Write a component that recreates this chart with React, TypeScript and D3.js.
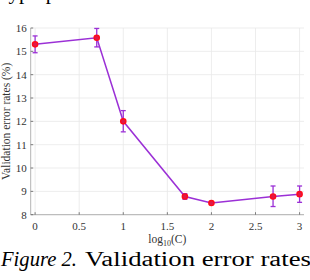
import React from "react";
import * as d3 from "d3";

const xValues = [0, 0.699, 1, 1.699, 2, 2.699, 3];
const yValues = [15.3, 15.58, 12.0, 8.78, 8.5, 8.78, 8.88];
const errLow = [14.94, 15.19, 11.55, 8.66, 8.46, 8.35, 8.53];
const errHigh = [15.66, 15.98, 12.46, 8.9, 8.54, 9.23, 9.23];
const xTicks = [0, 0.5, 1, 1.5, 2, 2.5, 3];
const xTickLabels = ["0", "0.5", "1", "1.5", "2", "2.5", "3"];
const yTicks = [8, 9, 10, 11, 12, 13, 14, 15, 16];

const W = 310;
const H = 280;
const serif = "'Liberation Serif', 'Times New Roman', serif";
const lineColor = "#9b30d6";

export default function App() {
  const x = d3.scaleLinear().domain([-0.05, 3.05]).range([30.7, 304]);
  const y = d3.scaleLinear().domain([8, 16]).range([214.7, 28]);
  const line = d3
    .line<number>()
    .x((_, i) => x(xValues[i]))
    .y((d) => y(d));
  const capW = 2.5;
  return (
    <svg
      width={W}
      height={H}
      style={{ position: "absolute", left: 0, top: 0, background: "#fff" }}
    >
      <text x={-2} y={-1} fontFamily={serif} fontSize={21} fill="#000">
        hyperparameter C
      </text>
      {/* grid */}
      {xTicks.map((t) => (
        <line
          key={"gx" + t}
          x1={x(t)}
          x2={x(t)}
          y1={y(16)}
          y2={y(8)}
          stroke="#e8e8e8"
          strokeWidth={0.8}
        />
      ))}
      {yTicks.map((t) => (
        <line
          key={"gy" + t}
          x1={x(-0.05)}
          x2={x(3.05)}
          y1={y(t)}
          y2={y(t)}
          stroke="#e8e8e8"
          strokeWidth={0.8}
        />
      ))}
      {/* axes */}
      <line x1={x(-0.05)} x2={x(-0.05)} y1={y(16)} y2={y(8)} stroke="#a0a0a0" strokeWidth={0.8} />
      <line x1={x(-0.05)} x2={x(3.05)} y1={y(8)} y2={y(8)} stroke="#a0a0a0" strokeWidth={0.8} />
      {xTicks.map((t, i) => (
        <g key={"tx" + t}>
          <line x1={x(t)} x2={x(t)} y1={y(8)} y2={y(8) - 2.5} stroke="#606060" strokeWidth={0.8} />
          <text
            x={x(t)}
            y={y(8) + 15}
            textAnchor="middle"
            fontFamily={serif}
            fontSize={11}
            fill="#333"
          >
            {xTickLabels[i]}
          </text>
        </g>
      ))}
      {yTicks.map((t) => (
        <g key={"ty" + t}>
          <line x1={x(-0.05)} x2={x(-0.05) + 2.5} y1={y(t)} y2={y(t)} stroke="#606060" strokeWidth={0.8} />
          <text
            x={x(-0.05) - 4}
            y={y(t) + 4}
            textAnchor="end"
            fontFamily={serif}
            fontSize={11}
            fill="#333"
          >
            {t}
          </text>
        </g>
      ))}
      {/* axis labels */}
      <text
        transform={`translate(9.5, ${(y(8) + y(16)) / 2}) rotate(-90)`}
        textAnchor="middle"
        fontFamily={serif}
        fontSize={11.5}
        fill="#333"
      >
        Validation error rates (%)
      </text>
      <text
        x={(x(-0.05) + x(3.05)) / 2}
        y={243}
        textAnchor="middle"
        fontFamily={serif}
        fontSize={11.5}
        fill="#333"
      >
        log
        <tspan fontSize={8} dy={3}>10</tspan>
        <tspan dy={-3}>(C)</tspan>
      </text>
      {/* line */}
      <path d={line(yValues) || ""} fill="none" stroke={lineColor} strokeWidth={1.5} />
      {/* error bars */}
      {xValues.map((xv, i) => (
        <g key={"e" + i} stroke={lineColor} strokeWidth={1.3}>
          <line x1={x(xv)} x2={x(xv)} y1={y(errLow[i])} y2={y(errHigh[i])} />
          <line x1={x(xv) - capW} x2={x(xv) + capW} y1={y(errLow[i])} y2={y(errLow[i])} />
          <line x1={x(xv) - capW} x2={x(xv) + capW} y1={y(errHigh[i])} y2={y(errHigh[i])} />
        </g>
      ))}
      {/* markers */}
      {xValues.map((xv, i) => (
        <circle
          key={"m" + i}
          cx={x(xv)}
          cy={y(yValues[i])}
          r={2.6}
          fill="#e0184a"
          stroke="#ff0a1a"
          strokeWidth={1.4}
        />
      ))}
      {/* caption */}
      <text
        x={1}
        y={266}
        fontFamily={serif}
        fontSize={20}
        fontStyle="italic"
        fill="#000"
        textLength={76}
        lengthAdjust="spacingAndGlyphs"
      >
        Figure 2.
      </text>
      <text
        x={85}
        y={266}
        fontFamily={serif}
        fontSize={20}
        fill="#000"
        textLength={226}
        lengthAdjust="spacingAndGlyphs"
      >
        Validation error rates
      </text>
    </svg>
  );
}
